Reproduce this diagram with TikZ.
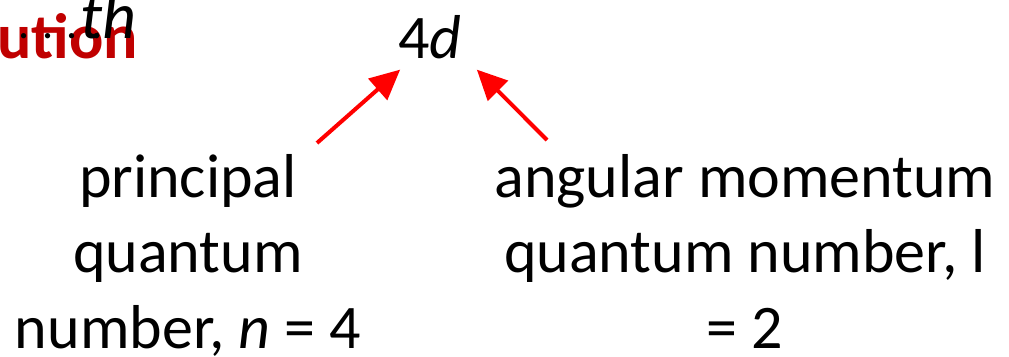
\documentclass[tikz,border=0pt]{standalone}
\usepackage{fontspec}
\setmainfont{Carlito}
\usetikzlibrary{arrows.meta}
\definecolor{titlered}{HTML}{C00000}
\begin{document}
\begin{tikzpicture}[x=1pt, y=-1pt,
  qntext/.style={font=\fontsize{62}{75.5}\selectfont, align=center, inner sep=0pt, anchor=base},
  pointer/.style={-{Triangle[length=30pt, width=28pt]}, line width=4pt, red}]
\useasboundingbox (0,0) rectangle (1009,356);
\clip (0,0) rectangle (1009,356);
% cut-off slide title
\node[font=\fontsize{64}{64}\selectfont\bfseries, text=titlered, inner sep=0pt, anchor=base east] (title) at (138,58) {ution};
\node[font=\fontsize{44}{44}\selectfont, inner sep=0pt, anchor=base west] (dots) at (18,38) {. . . .};
\node[font=\fontsize{66}{66}\selectfont\itshape, inner sep=0pt, anchor=base east] (sup) at (137,38) {th};
% orbital symbol
\node[qntext] (orb) at (430,58) {4\textit{d}};
% quantum numbers (base = last line)
\node[qntext] (nlabel) at (188,348) {principal\\quantum\\number, \textit{n} = 4};
\node[qntext] (llabel) at (745,348) {angular momentum\\quantum number, l\\= 2};
% arrows to 4d
\coordinate (ntail) at (317,143);
\coordinate (ltail) at (547,140);
\draw[pointer] (ntail) -- ([shift={(2,11)}]orb.south west);
\draw[pointer] (ltail) -- ([shift={(15,11)}]orb.south east);
\end{tikzpicture}
\end{document}
